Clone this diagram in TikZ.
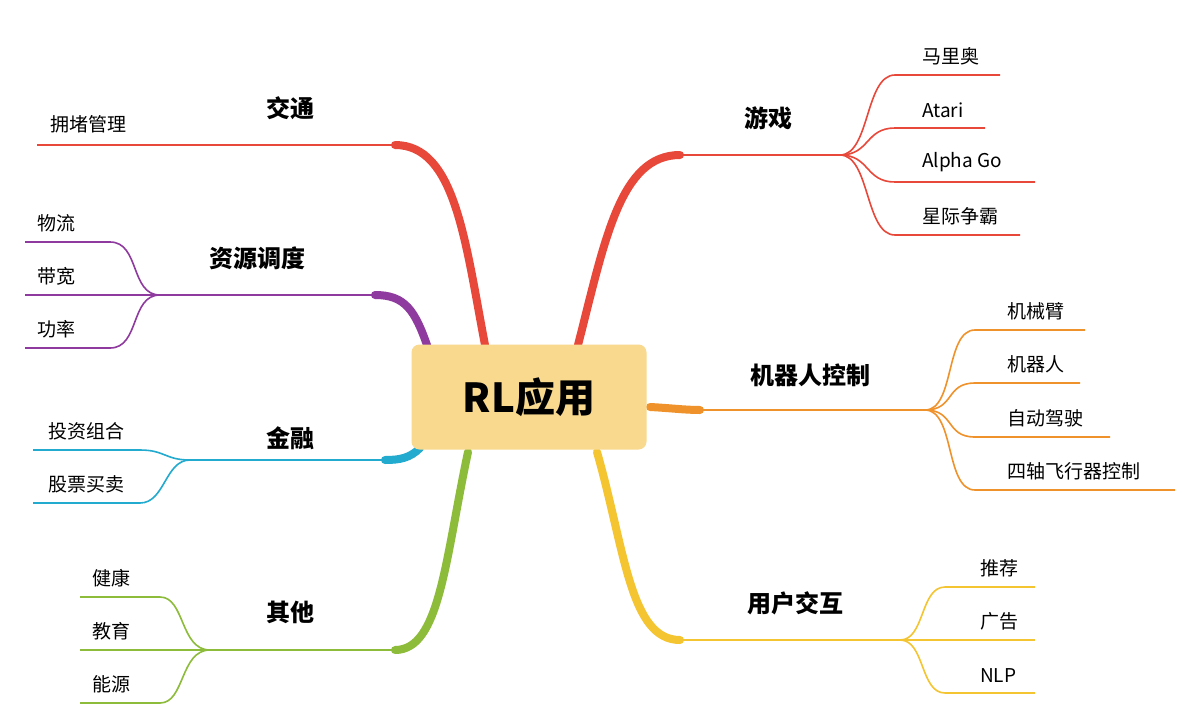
\documentclass[tikz,border=0pt]{standalone}
\usepackage{fontspec}
\setmainfont{Noto Sans CJK SC}
\definecolor{cred}{HTML}{E8483A}
\definecolor{cpur}{HTML}{8E3A9E}
\definecolor{cblue}{HTML}{22AACF}
\definecolor{cgreen}{HTML}{8DBB3A}
\definecolor{corg}{HTML}{F0922B}
\definecolor{cyel}{HTML}{F5C431}
\definecolor{cbox}{HTML}{F8D98E}
\begin{document}
\begin{tikzpicture}[x=1pt,y=-1pt,
  trunk/.style={line width=8pt,line cap=round},
  limb/.style={line width=2.6pt},
  twig/.style={line width=1.6pt},
  leaf/.style={font=\fontsize{19}{19}\selectfont,inner sep=0pt},
  blabel/.style={font=\fontsize{24}{24}\selectfont\bfseries,inner sep=0pt}]
\useasboundingbox (0,0) rectangle (1186,710);
\fill[white] (0,0) rectangle (1186,710);
% trunks
\coordinate (jt0) at (485,345); \coordinate (jt1) at (395,145);
\coordinate (zy0) at (428,348); \coordinate (zy1) at (375,295);
\coordinate (jr0) at (420,448); \coordinate (jr1) at (385,460);
\coordinate (qt0) at (468,452); \coordinate (qt1) at (395,650);
\coordinate (yx0) at (578,345); \coordinate (yx1) at (680,155);
\coordinate (jq0) at (650,407); \coordinate (jq1) at (700,410);
\coordinate (yh0) at (597,452); \coordinate (yh1) at (680,640);
\draw[cred,trunk] (jt0) .. controls (465,240) and (455,145) .. (jt1);
\draw[cpur,trunk] (zy0) .. controls (415,310) and (405,295) .. (zy1);
\draw[cblue,trunk] (jr0) .. controls (410,458) and (400,460) .. (jr1);
\draw[cgreen,trunk] (qt0) .. controls (445,560) and (440,650) .. (qt1);
\draw[cred,trunk] (yx0) .. controls (605,240) and (620,155) .. (yx1);
\draw[corg,trunk] (jq0) .. controls (670,408) and (685,410) .. (jq1);
\draw[cyel,trunk] (yh0) .. controls (625,550) and (630,640) .. (yh1);
% limbs
\coordinate (jtE) at (37,145);
\coordinate (zyF) at (160,295);
\coordinate (jrF) at (190,460);
\coordinate (qtF) at (210,650);
\coordinate (yxF) at (840,155);
\coordinate (jqF) at (925,410);
\coordinate (yhF) at (900,640);
\draw[cred,limb] (jt1) -- (jtE);
\draw[cpur,limb] (zy1) -- (zyF);
\draw[cblue,limb] (jr1) -- (jrF);
\draw[cgreen,limb] (qt1) -- (qtF);
\draw[cred,limb] (yx1) -- (yxF);
\draw[corg,limb] (jq1) -- (jqF);
\draw[cyel,limb] (yh1) -- (yhF);
% center
\node[fill=cbox,rounded corners=8pt,minimum width=235pt,minimum height=105pt,
  font=\fontsize{40}{40}\selectfont\bfseries] (c) at (529,397) {RL应用};
% branch labels
\node[blabel] (l1) at (290,108) {交通};
\node[blabel] (l2) at (257,258) {资源调度};
\node[blabel] (l3) at (290,438) {金融};
\node[blabel] (l4) at (290,612) {其他};
\node[blabel] (l5) at (768,118) {游戏};
\node[blabel] (l6) at (810,375) {机器人控制};
\node[blabel] (l7) at (795,603) {用户交互};
\node[leaf,anchor=south west] (t1) at (50,133) {拥堵管理};
% left forks
\foreach \y/\t [count=\i] in {242/物流,295/带宽,348/功率}{
  \coordinate (zl\i) at (110,\y); \coordinate (ze\i) at (25,\y);
  \draw[cpur,twig] (zyF) .. controls (130,295) and (140,\y) .. (zl\i) -- (ze\i);
  \node[leaf,anchor=south west] (zt\i) at (37,\y-10) {\t};}
\foreach \y/\t [count=\i] in {450/投资组合,503/股票买卖}{
  \coordinate (jl\i) at (140,\y); \coordinate (je\i) at (33,\y);
  \draw[cblue,twig] (jrF) .. controls (165,460) and (165,\y) .. (jl\i) -- (je\i);
  \node[leaf,anchor=south west] (jtt\i) at (48,\y-10) {\t};}
\foreach \y/\t [count=\i] in {597/健康,650/教育,703/能源}{
  \coordinate (ql\i) at (160,\y); \coordinate (qe\i) at (80,\y);
  \draw[cgreen,twig] (qtF) .. controls (180,650) and (185,\y) .. (ql\i) -- (qe\i);
  \node[leaf,anchor=south west] (qtt\i) at (92,\y-10) {\t};}
% right forks
\foreach \y/\e/\t [count=\i] in {75/1000/马里奥,128/985/Atari,182/1035/Alpha Go,235/1020/星际争霸}{
  \coordinate (yl\i) at (895,\y); \coordinate (ye\i) at (\e,\y);
  \draw[cred,twig] (yxF) .. controls (870,155) and (865,\y) .. (yl\i) -- (ye\i);
  \node[leaf,anchor=south west] (ytt\i) at (922,\y-10) {\t};}
\foreach \y/\e/\t [count=\i] in {330/1085/机械臂,383/1080/机器人,437/1110/自动驾驶,490/1175/四轴飞行器控制}{
  \coordinate (rl\i) at (975,\y); \coordinate (re\i) at (\e,\y);
  \draw[corg,twig] (jqF) .. controls (955,410) and (945,\y) .. (rl\i) -- (re\i);
  \node[leaf,anchor=south west] (rtt\i) at (1007,\y-10) {\t};}
\foreach \y/\t [count=\i] in {587/推荐,640/广告,693/NLP}{
  \coordinate (ul\i) at (945,\y); \coordinate (ue\i) at (1035,\y);
  \draw[cyel,twig] (yhF) .. controls (925,640) and (920,\y) .. (ul\i) -- (ue\i);
  \node[leaf,anchor=south west] (utt\i) at (980,\y-10) {\t};}
\end{tikzpicture}
\end{document}
